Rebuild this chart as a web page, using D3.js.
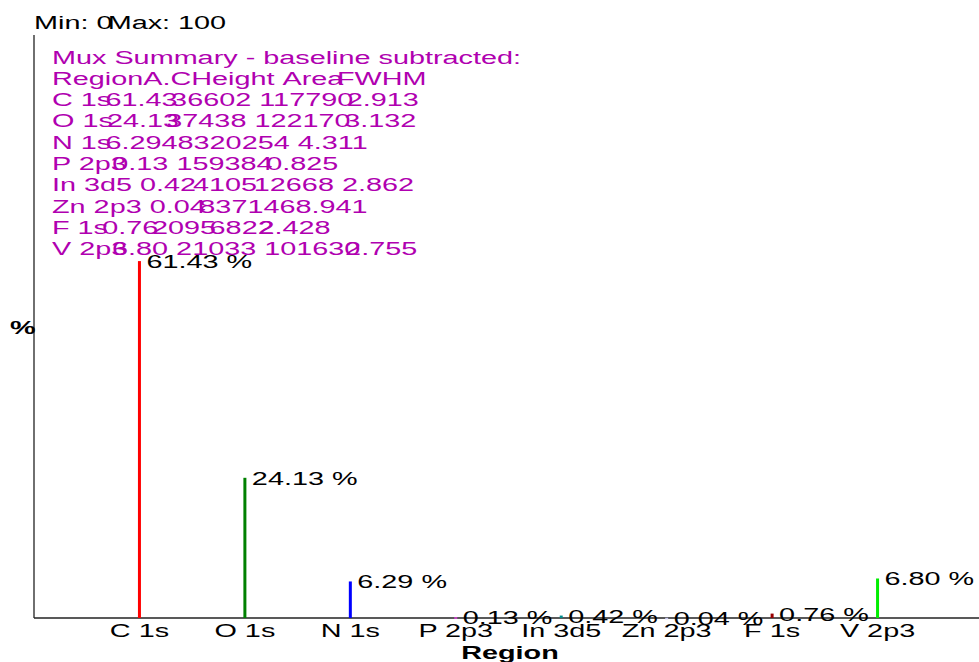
<!DOCTYPE html>
<html><head><meta charset="utf-8">
<script src="https://cdn.jsdelivr.net/npm/d3@7"></script>
<style>
body{margin:0;background:#fff;overflow:hidden}
text{font-family:"Liberation Sans",Arial,Helvetica,sans-serif;}
</style></head>
<body>
<svg id="c" width="979" height="662"></svg>
<script>
// ---------- data ----------
const regions = ["C 1s","O 1s","N 1s","P 2p3","In 3d5","Zn 2p3","F 1s","V 2p3"];
const percents = [61.43, 24.13, 6.29, 0.13, 0.42, 0.04, 0.76, 6.80];
const barColors = ["#ff0000","#008000","#0000ff","#e040e0","#008b8b","#c8c8f0","#990000","#00ee00"];
const tableHeader = ["Region","A.C","Height","Area","FWHM"];
const acLabels = ["61.43","24.13","6.29","0.13","0.42","0.04","0.76","6.80"];
const heightLabels = ["36602","37438","483","159","4105","837","2095","21033"];
const areaLabels = ["117790","122170","20254","384","12668","146","6822","101630"];
const fwhmLabels = ["2.913","3.132","4.311","0.825","2.862","8.941","2.428","2.755"];
const titleMin = "Min: 0", titleMax = "Max: 100";
const summaryTitle = "Mux Summary - baseline subtracted:";
const xTitle = "Region", yTitle = "%";
const yDomain = [0, 100];

// ---------- layout: joins between table cells, in characters (>0 overlap of last char, 0 adjacent, -1 one space) ----------
const headerJoins = [0, 0, -1, 0.4];
const rowJoins = [
  [0.4, 0.4, -1, 0.4],
  [0.4, 0.8, -1, 0.4],
  [0.4, 0, 0, -1],
  [0.9, -1, 0, 0.4],
  [-1, 0.2, 0.2, -1],
  [-1, 0.4, 0, 0],
  [0.4, 0.4, 0.4, 0.95],
  [0.95, -1, -1, 0.95]
];
const W = 979, H = 662;
const M = {left:34, right:0, top:35, bottom:44};
const FS = 18, HS = 1.6;
const SPACE = 0.278 * FS * HS;
const tableColor = "#b000b0";

const svg = d3.select("#c");
const meas = svg.append("text").attr("font-size", FS).attr("visibility","hidden").attr("x",-1000).attr("y",-1000);
function tw(s, bold){
  meas.attr("font-weight", bold ? "bold" : "normal").text(s);
  return meas.node().getComputedTextLength() * HS;
}
function put(g, s, x, y, opts = {}){
  const w = tw(s, opts.bold);
  const t = g.append("text")
    .attr("x", x).attr("y", y)
    .attr("font-size", FS)
    .attr("fill", opts.fill || "#000")
    .attr("font-weight", opts.bold ? "bold" : null)
    .text(s);
  if (s.length) t.attr("textLength", w).attr("lengthAdjust", "spacingAndGlyphs");
  return w;
}

const x = d3.scalePoint().domain(regions).range([M.left, W + 4]).padding(1);
const y = d3.scaleLinear().domain(yDomain).range([H - M.bottom, M.top + 2]);
const y0 = y(0);

// axes lines
const axes = svg.append("g").attr("stroke", "#222").attr("stroke-width", 1.3);
axes.append("line").attr("x1", M.left).attr("x2", M.left).attr("y1", M.top).attr("y2", y0);
axes.append("line").attr("x1", M.left).attr("x2", W).attr("y1", y0).attr("y2", y0);

// bars (stick lines)
svg.append("g").selectAll("rect").data(percents).join("rect")
  .attr("x", (d,i) => x(regions[i]) - 1.5)
  .attr("width", 3)
  .attr("y", d => y(d))
  .attr("height", d => Math.max(y0 - y(d), 1.5))
  .attr("fill", (d,i) => barColors[i]);

// value labels
const vl = svg.append("g");
percents.forEach((d,i) => put(vl, d.toFixed(2) + " %", x(regions[i]) + 7, y(d) + 7));

// x tick labels
const xl = svg.append("g");
regions.forEach(r => { const w = tw(r); put(xl, r, x(r) - w/2, H - 25); });

// axis titles
const tg = svg.append("g");
const wx = tw(xTitle, true);
put(tg, xTitle, 510 - wx/2, H - 3, {bold:true});
put(tg, yTitle, 10, 334, {bold:true});

// Min / Max
const mg = svg.append("g");
const wMin = put(mg, titleMin, M.left, 28.5);
put(mg, titleMax, M.left + wMin - tw(titleMin.slice(-1))*0.3, 28.5);

// summary table
svg.append("clipPath").attr("id","tclip").append("rect").attr("x",0).attr("y",0).attr("width",526).attr("height",H);
const tb = svg.append("g").attr("clip-path","url(#tclip)");
const tx0 = 52, ty0 = 63.5, pitch = 21.3;
put(tb, summaryTitle, tx0, ty0, {fill: tableColor});
function row(tokens, joins, yy){
  let xx = tx0;
  tokens.forEach((tok, i) => {
    const w = put(tb, tok, xx, yy, {fill: tableColor});
    if (i < joins.length) {
      const j = joins[i];
      if (j >= 0) xx += w - tw(tok.slice(-1)) * j;
      else xx += w - j * SPACE;
    }
  });
}
row(tableHeader, headerJoins, ty0 + pitch);
regions.forEach((r,i) => {
  row([r, acLabels[i], heightLabels[i], areaLabels[i], fwhmLabels[i]], rowJoins[i], ty0 + pitch*(i+2));
});
</script>
</body></html>
